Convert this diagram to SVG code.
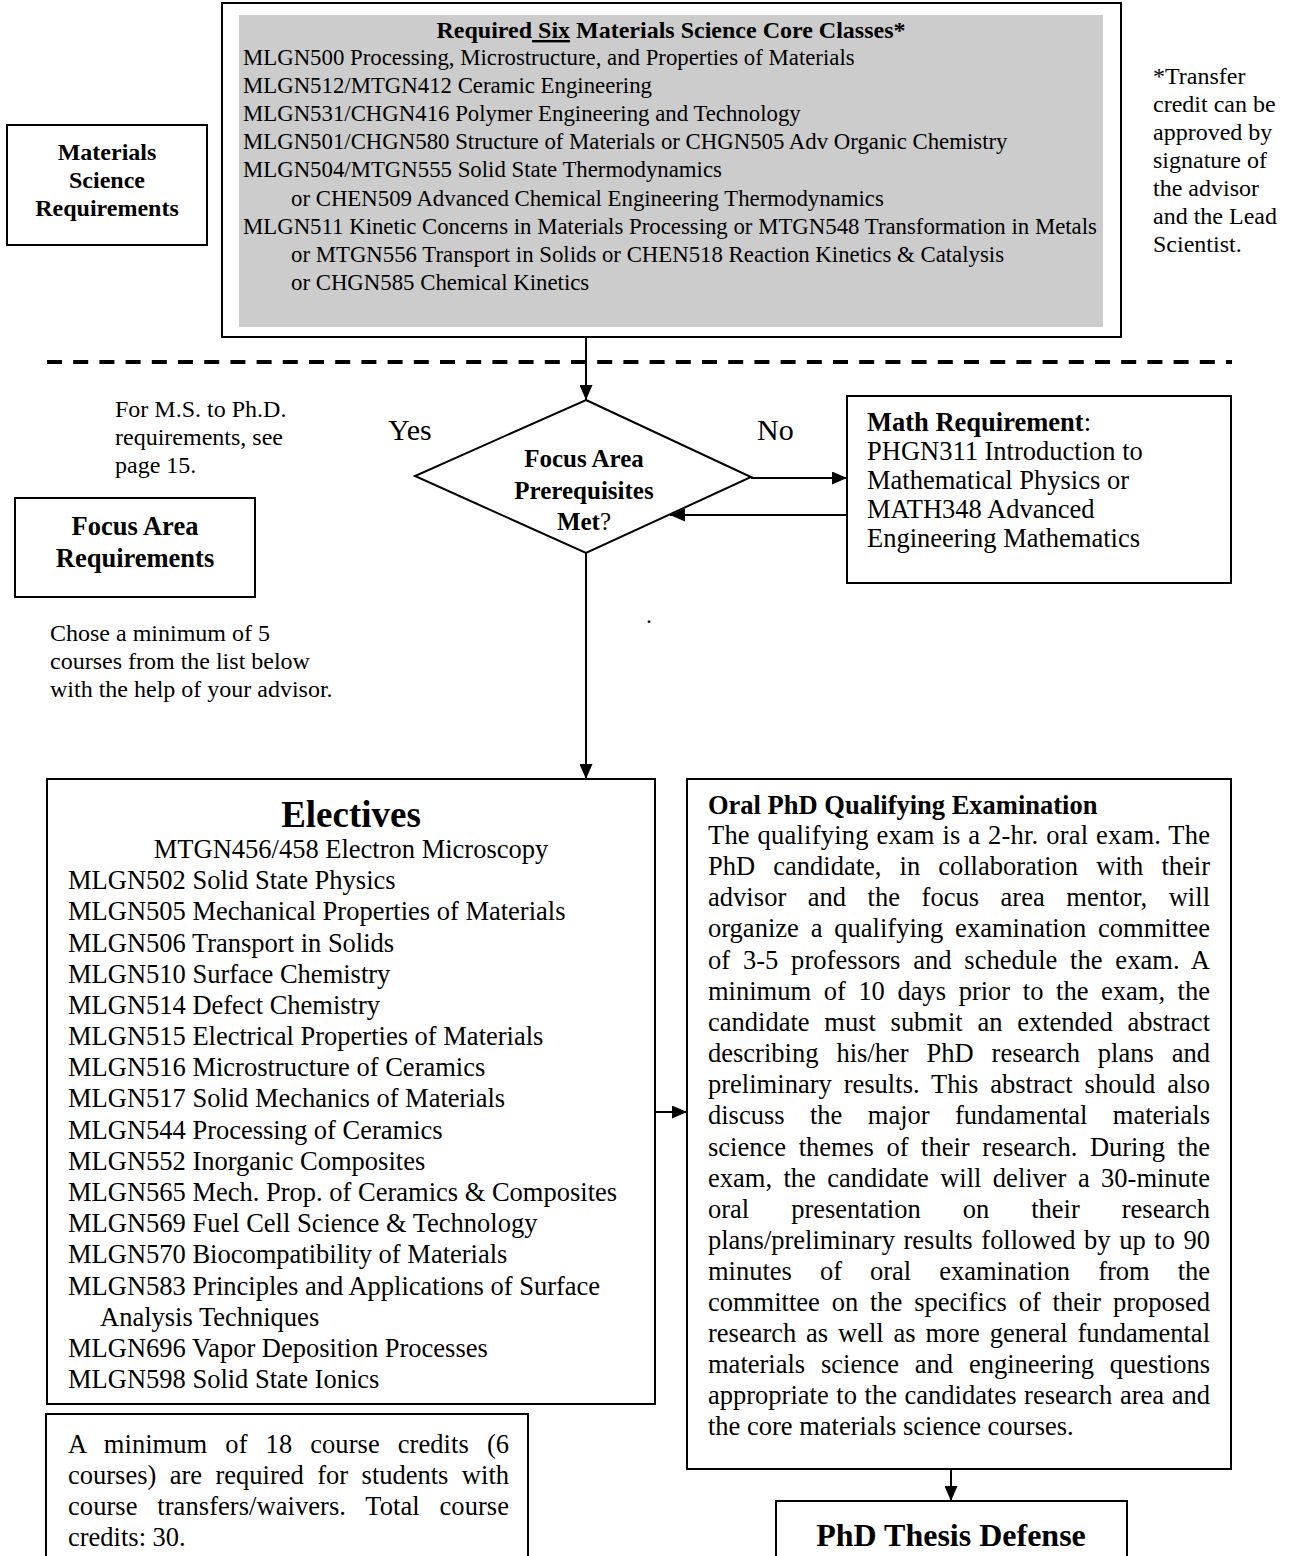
<svg xmlns="http://www.w3.org/2000/svg" width="1293" height="1556" viewBox="0 0 1293 1556">
<defs>
<marker id="ah" markerWidth="15" markerHeight="13" refX="15" refY="6.5" orient="auto" markerUnits="userSpaceOnUse"><path d="M0,0 L15,6.5 L0,13 z" fill="#000"/></marker>
<style>
text{font-family:"Liberation Serif","Times New Roman",serif;fill:#000}
.box{fill:#fff;stroke:#000;stroke-width:2}
.b{font-weight:bold}
.t23{font-size:22.8px}
.t24{font-size:24px}
.t26{font-size:26.5px}
.c{text-anchor:middle}
.conn{stroke:#000;stroke-width:2;fill:none}
</style>
</defs>
<rect width="1293" height="1556" fill="#fff"/>

<g id="core-classes">
<rect class="box" x="222" y="3" width="899" height="334"/>
<rect x="239" y="15" width="864" height="312" fill="#cccccc"/>
<text class="b c" font-size="24" x="671" y="38">Required<tspan text-decoration="underline"> Six</tspan> Materials Science Core Classes*</text>
<text class="t23" x="243" y="65">MLGN500 Processing, Microstructure, and Properties of Materials</text>
<text class="t23" x="243" y="93">MLGN512/MTGN412 Ceramic Engineering</text>
<text class="t23" x="243" y="121">MLGN531/CHGN416 Polymer Engineering and Technology</text>
<text class="t23" x="243" y="149">MLGN501/CHGN580 Structure of Materials or CHGN505 Adv Organic Chemistry</text>
<text class="t23" x="243" y="177">MLGN504/MTGN555 Solid State Thermodynamics</text>
<text class="t23" x="291" y="206">or CHEN509 Advanced Chemical Engineering Thermodynamics</text>
<text class="t23" x="243" y="234">MLGN511 Kinetic Concerns in Materials Processing or MTGN548 Transformation in Metals</text>
<text class="t23" x="291" y="262">or MTGN556 Transport in Solids or CHEN518 Reaction Kinetics &amp; Catalysis</text>
<text class="t23" x="291" y="290">or CHGN585 Chemical Kinetics</text>
</g>

<g id="materials-science-requirements">
<rect class="box" x="7" y="125" width="200" height="120"/>
<text class="t24 b c" x="107" y="160">Materials</text>
<text class="t24 b c" x="107" y="188">Science</text>
<text class="t24 b c" x="107" y="216">Requirements</text>
</g>

<g id="transfer-note">
<text class="t24" x="1153" y="84">*Transfer</text>
<text class="t24" x="1153" y="112">credit can be</text>
<text class="t24" x="1153" y="140">approved by</text>
<text class="t24" x="1153" y="168">signature of</text>
<text class="t24" x="1153" y="196">the advisor</text>
<text class="t24" x="1153" y="224">and the Lead</text>
<text class="t24" x="1153" y="252">Scientist.</text>
</g>

<line x1="47" y1="362" x2="1232" y2="362" stroke="#000" stroke-width="4" stroke-dasharray="15 11.2"/>

<g id="ms-phd-note">
<text class="t24" x="115" y="417">For M.S. to Ph.D.</text>
<text class="t24" x="115" y="445">requirements, see</text>
<text class="t24" x="115" y="473">page 15.</text>
</g>

<g id="focus-area-requirements">
<rect class="box" x="15" y="498" width="240" height="99"/>
<text class="t26 b c" x="135" y="535">Focus Area</text>
<text class="t26 b c" x="135" y="567">Requirements</text>
</g>

<g id="choose-note">
<text class="t24" x="50" y="641">Chose a minimum of 5</text>
<text class="t24" x="50" y="669">courses from the list below</text>
<text class="t24" x="50" y="697">with the help of your advisor.</text>
</g>

<g id="decision">
<polygon points="586,400 751,477 586,553 415,476" fill="#fff" stroke="#000" stroke-width="2"/>
<text class="b c" font-size="25" x="584" y="467">Focus Area</text>
<text class="b c" font-size="25" x="584" y="499">Prerequisites</text>
<text class="c" font-size="25" x="584" y="530"><tspan font-weight="bold">Met</tspan>?</text>
</g>

<text font-size="30" x="388" y="440">Yes</text>
<text font-size="30" x="757" y="440">No</text>
<text class="t24" x="646" y="623">.</text>

<g id="math-requirement">
<rect class="box" x="847" y="396" width="384" height="187"/>
<text class="t26" x="867" y="431"><tspan font-weight="bold">Math Requirement</tspan>:</text>
<text class="t26" x="867" y="460">PHGN311 Introduction to</text>
<text class="t26" x="867" y="489">Mathematical Physics or</text>
<text class="t26" x="867" y="518">MATH348 Advanced</text>
<text class="t26" x="867" y="547">Engineering Mathematics</text>
</g>

<g id="electives">
<rect class="box" x="47" y="779" width="608" height="625"/>
<text class="b c" font-size="37" x="351" y="827">Electives</text>
<text class="t26 c" x="351" y="858">MTGN456/458 Electron Microscopy</text>
<text class="t26" x="68" y="889">MLGN502 Solid State Physics</text>
<text class="t26" x="68" y="920">MLGN505 Mechanical Properties of Materials</text>
<text class="t26" x="68" y="952">MLGN506 Transport in Solids</text>
<text class="t26" x="68" y="983">MLGN510 Surface Chemistry</text>
<text class="t26" x="68" y="1014">MLGN514 Defect Chemistry</text>
<text class="t26" x="68" y="1045">MLGN515 Electrical Properties of Materials</text>
<text class="t26" x="68" y="1076">MLGN516 Microstructure of Ceramics</text>
<text class="t26" x="68" y="1107">MLGN517 Solid Mechanics of Materials</text>
<text class="t26" x="68" y="1139">MLGN544 Processing of Ceramics</text>
<text class="t26" x="68" y="1170">MLGN552 Inorganic Composites</text>
<text class="t26" x="68" y="1201">MLGN565 Mech. Prop. of Ceramics &amp; Composites</text>
<text class="t26" x="68" y="1232">MLGN569 Fuel Cell Science &amp; Technology</text>
<text class="t26" x="68" y="1263">MLGN570 Biocompatibility of Materials</text>
<text class="t26" x="68" y="1295">MLGN583 Principles and Applications of Surface</text>
<text class="t26" x="100" y="1326">Analysis Techniques</text>
<text class="t26" x="68" y="1357">MLGN696 Vapor Deposition Processes</text>
<text class="t26" x="68" y="1388">MLGN598 Solid State Ionics</text>
</g>

<g id="credits-note">
<rect class="box" x="46" y="1414" width="482" height="160"/>
<text class="t26" x="68" y="1453" word-spacing="11.4" textLength="441" lengthAdjust="spacing">A minimum of 18 course credits (6</text>
<text class="t26" x="68" y="1484" word-spacing="6.8" textLength="441" lengthAdjust="spacing">courses) are required for students with</text>
<text class="t26" x="68" y="1515" word-spacing="13.1" textLength="441" lengthAdjust="spacing">course transfers/waivers. Total course</text>
<text class="t26" x="68" y="1546">credits: 30.</text>
</g>

<g id="oral-exam">
<rect class="box" x="687" y="779" width="544" height="690"/>
<text class="t26 b" x="708" y="814">Oral PhD Qualifying Examination</text>
<text class="t26" x="708" y="844" word-spacing="0.9" textLength="502" lengthAdjust="spacing">The qualifying exam is a 2-hr. oral exam. The</text>
<text class="t26" x="708" y="875" word-spacing="11.5" textLength="502" lengthAdjust="spacing">PhD candidate, in collaboration with their</text>
<text class="t26" x="708" y="906" word-spacing="14.8" textLength="502" lengthAdjust="spacing">advisor and the focus area mentor, will</text>
<text class="t26" x="708" y="937" word-spacing="5.2" textLength="502" lengthAdjust="spacing">organize a qualifying examination committee</text>
<text class="t26" x="708" y="969" word-spacing="6.1" textLength="502" lengthAdjust="spacing">of 3-5 professors and schedule the exam. A</text>
<text class="t26" x="708" y="1000" word-spacing="6.0" textLength="502" lengthAdjust="spacing">minimum of 10 days prior to the exam, the</text>
<text class="t26" x="708" y="1031" word-spacing="8.1" textLength="502" lengthAdjust="spacing">candidate must submit an extended abstract</text>
<text class="t26" x="708" y="1062" word-spacing="11.3" textLength="502" lengthAdjust="spacing">describing his/her PhD research plans and</text>
<text class="t26" x="708" y="1093" word-spacing="5.3" textLength="502" lengthAdjust="spacing">preliminary results. This abstract should also</text>
<text class="t26" x="708" y="1124" word-spacing="18.8" textLength="502" lengthAdjust="spacing">discuss the major fundamental materials</text>
<text class="t26" x="708" y="1156" word-spacing="6.0" textLength="502" lengthAdjust="spacing">science themes of their research. During the</text>
<text class="t26" x="708" y="1187" word-spacing="4.8" textLength="502" lengthAdjust="spacing">exam, the candidate will deliver a 30-minute</text>
<text class="t26" x="708" y="1218" word-spacing="35.4" textLength="502" lengthAdjust="spacing">oral presentation on their research</text>
<text class="t26" x="708" y="1249" word-spacing="2.0" textLength="502" lengthAdjust="spacing">plans/preliminary results followed by up to 90</text>
<text class="t26" x="708" y="1280" word-spacing="21.4" textLength="502" lengthAdjust="spacing">minutes of oral examination from the</text>
<text class="t26" x="708" y="1311" word-spacing="5.2" textLength="502" lengthAdjust="spacing">committee on the specifics of their proposed</text>
<text class="t26" x="708" y="1342" word-spacing="3.2" textLength="502" lengthAdjust="spacing">research as well as more general fundamental</text>
<text class="t26" x="708" y="1373" word-spacing="9.2" textLength="502" lengthAdjust="spacing">materials science and engineering questions</text>
<text class="t26" x="708" y="1404" word-spacing="1.0" textLength="502" lengthAdjust="spacing">appropriate to the candidates research area and</text>
<text class="t26" x="708" y="1435">the core materials science courses.</text>
</g>

<g id="thesis-defense">
<rect class="box" x="776" y="1501" width="351" height="80"/>
<text class="b c" font-size="32" x="951" y="1546">PhD Thesis Defense</text>
</g>

<g id="connectors">
<line class="conn" x1="586" y1="337" x2="586" y2="400" marker-end="url(#ah)"/>
<line class="conn" x1="751" y1="478" x2="847" y2="478" marker-end="url(#ah)"/>
<line class="conn" x1="847" y1="515" x2="670" y2="515" marker-end="url(#ah)"/>
<line class="conn" x1="586" y1="553" x2="586" y2="779" marker-end="url(#ah)"/>
<line class="conn" x1="655" y1="1112" x2="687" y2="1112" marker-end="url(#ah)"/>
<line class="conn" x1="951" y1="1469" x2="951" y2="1501" marker-end="url(#ah)"/>
</g>
</svg>
